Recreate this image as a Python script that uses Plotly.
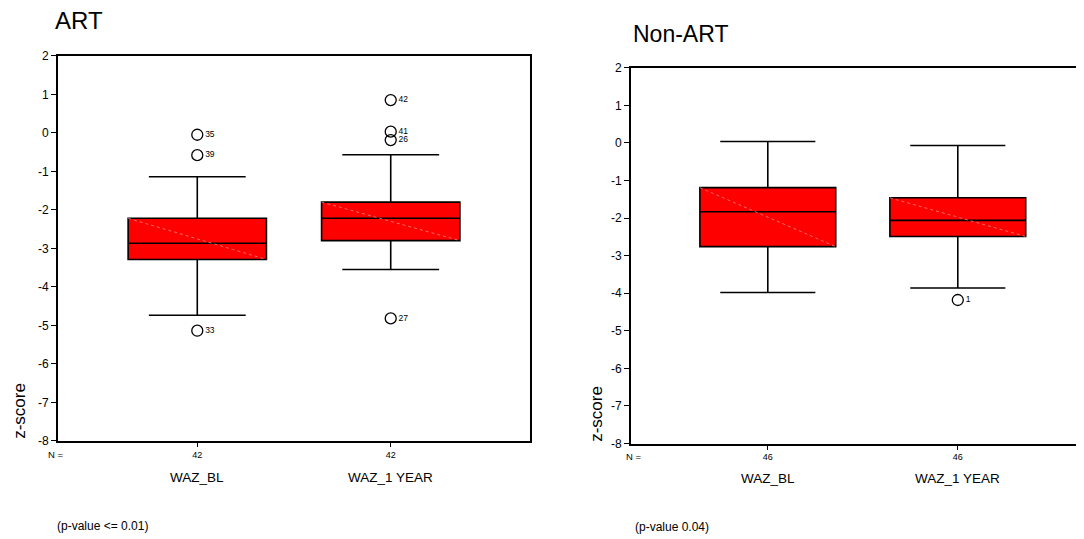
import plotly.graph_objects as go

# ---------------- data ----------------
categories = ["WAZ_BL", "WAZ_1 YEAR"]
positions = [0, 1]
y_ticks = [2, 1, 0, -1, -2, -3, -4, -5, -6, -7, -8]

art_q1 = [-3.29, -2.80]
art_median = [-2.87, -2.22]
art_q3 = [-2.22, -1.80]
art_lower = [-4.74, -3.55]
art_upper = [-1.14, -0.57]
art_n = [42, 42]
art_out_pos = [0, 0, 0, 1, 1, 1, 1]
art_out_val = [-0.05, -0.58, -5.14, 0.85, 0.03, -0.19, -4.82]
art_out_lab = ["35", "39", "33", "42", "41", "26", "27"]

non_q1 = [-2.76, -2.49]
non_median = [-1.83, -2.06]
non_q3 = [-1.19, -1.46]
non_lower = [-3.98, -3.86]
non_upper = [0.04, -0.07]
non_n = [46, 46]
non_out_pos = [1]
non_out_val = [-4.18]
non_out_lab = ["1"]

panel_titles = ["ART", "Non-ART"]
p_values = ["(p-value <= 0.01)", "(p-value 0.04)"]

# ---------------- style ----------------
FONT = "Liberation Sans, Arial, sans-serif"
BOX_W = 0.715
W, H = 1068, 539
OFF_X = 8
SY, OFF_Y = 0.974, 14.2   # observed vertical mapping of the page photo

fig = go.Figure()

panels = [
    dict(q1=art_q1, med=art_median, q3=art_q3, lo=art_lower, hi=art_upper,
         n=art_n, op=art_out_pos, ov=art_out_val, ol=art_out_lab, xa="x", ya="y"),
    dict(q1=non_q1, med=non_median, q3=non_q3, lo=non_lower, hi=non_upper,
         n=non_n, op=non_out_pos, ov=non_out_val, ol=non_out_lab, xa="x2", ya="y2"),
]

for p in panels:
    fig.add_trace(go.Box(
        x=positions, q1=p["q1"], median=p["med"], q3=p["q3"],
        lowerfence=p["lo"], upperfence=p["hi"],
        width=BOX_W, whiskerwidth=0.7, boxpoints=False,
        fillcolor="#ff0000", line=dict(color="black", width=1.6),
        xaxis=p["xa"], yaxis=p["ya"], showlegend=False, hoverinfo="skip"))
    # faint diagonal rendering streak inside each box
    for i, c in enumerate(positions):
        fig.add_trace(go.Scatter(
            x=[c - BOX_W / 2, c + BOX_W / 2], y=[p["q3"][i], p["q1"][i]],
            mode="lines", line=dict(color="rgba(255,150,150,0.9)", width=0.8, dash="dot"),
            xaxis=p["xa"], yaxis=p["ya"], showlegend=False, hoverinfo="skip"))
    fig.add_trace(go.Scatter(
        x=p["op"], y=p["ov"], mode="markers+text", text=p["ol"],
        textposition="middle right",
        textfont=dict(family=FONT, size=8.5, color="black"),
        marker=dict(symbol="circle-open", size=11, color="black", line=dict(width=1.3)),
        xaxis=p["xa"], yaxis=p["ya"], showlegend=False, hoverinfo="skip"))

# target positions in photo pixels
L1, R1, T1, B1 = 58, 530, 55, 440
L2, R2, T2, B2 = 631, W + OFF_X, 67, 442.7
spacing2 = 190.0


def px(v):
    return (v - OFF_X) / W


def py(v):
    return 1 - ((v - OFF_Y) / SY) / H


axis_common = dict(showgrid=False, zeroline=False, showline=True,
                   linecolor="black", linewidth=2)
ytick_text = [str(v) for v in y_ticks]

fig.update_layout(
    width=W, height=H, margin=dict(l=0, r=0, t=0, b=0),
    paper_bgcolor="white", plot_bgcolor="white",
    xaxis=dict(domain=[px(L1), px(R1)], range=[-0.72, 1.72], mirror=True,
               tickvals=positions, ticktext=[str(v) for v in art_n],
               ticks="outside", ticklen=4, tickcolor="black",
               tickfont=dict(family=FONT, size=9, color="black"),
               anchor="y", **axis_common),
    yaxis=dict(domain=[py(B1), py(T1)], range=[-8, 2],
               tickvals=y_ticks, ticktext=ytick_text, mirror=True,
               ticks="outside", ticklen=5, tickcolor="black",
               tickfont=dict(family=FONT, size=12, color="black"),
               anchor="x", **axis_common),
    xaxis2=dict(domain=[px(L2), px(R2)],
                range=[-0.72, -0.72 + (R2 - L2) / spacing2], mirror=True,
                tickvals=positions, ticktext=[str(v) for v in non_n],
                ticks="outside", ticklen=4, tickcolor="black",
                tickfont=dict(family=FONT, size=9, color="black"),
                anchor="y2", **axis_common),
    yaxis2=dict(domain=[py(B2), py(T2)], range=[-8, 2],
                tickvals=y_ticks, ticktext=ytick_text, mirror=False,
                ticks="outside", ticklen=5, tickcolor="black",
                tickfont=dict(family=FONT, size=12, color="black"),
                anchor="x2", **axis_common),
)


def note(text, x, y, size, xanchor="left", yanchor="middle", angle=0, xref="paper"):
    return dict(text=text, x=x if xref != "paper" else px(x), y=py(y),
                xref=xref, yref="paper", xanchor=xanchor, yanchor=yanchor,
                textangle=angle, showarrow=False,
                font=dict(family=FONT, size=size, color="black"))


ann = [
    note(panel_titles[0], 53, 20, 24),
    note(panel_titles[1], 631, 33, 23),
    note("z-score", 20, 440, 17, xanchor="center", yanchor="bottom", angle=-90),
    note("z-score", 597, 443, 17, xanchor="center", yanchor="bottom", angle=-90),
    note("N =", 46, 454, 9.5),
    note("N =", 624, 456, 9.5),
    note(p_values[0], 55, 525, 12),
    note(p_values[1], 633, 526, 12),
]
for xa, yy in (("x", 477), ("x2", 478)):
    for c, lab in zip(positions, categories):
        ann.append(note(lab, c, yy, 13.5, xanchor="center", xref=xa))

fig.update_layout(annotations=ann)
fig.write_html("out.html")
